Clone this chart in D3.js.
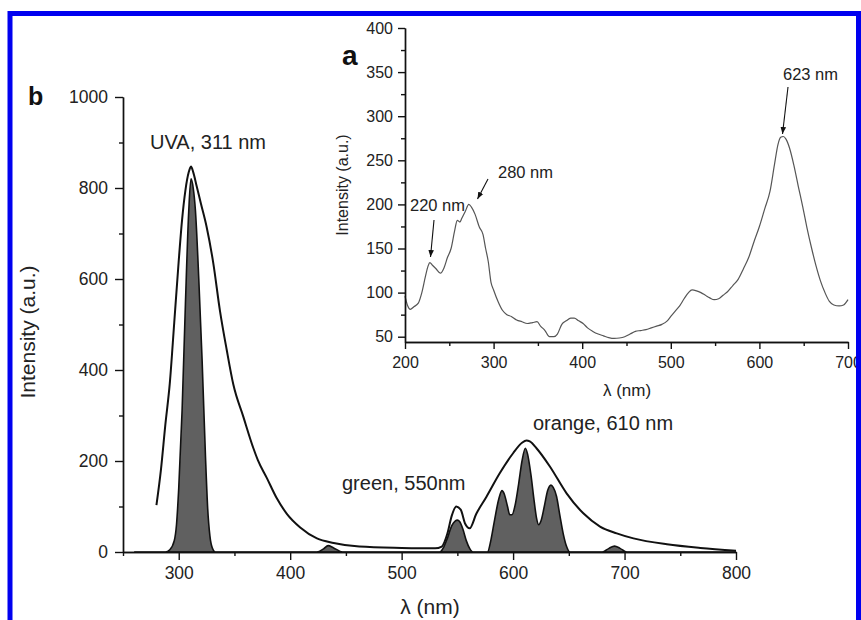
<!DOCTYPE html>
<html>
<head>
<meta charset="utf-8">
<script src="https://cdn.jsdelivr.net/npm/d3@7"></script>
<style>
  body { margin: 0; background: #fff; }
  svg { display: block; font-family: "Liberation Sans", Arial, sans-serif; }
  .axis path, .axis line { stroke: #111; }
  .axis text { fill: #222; }
</style>
</head>
<body>
<svg id="chart" width="861" height="620"></svg>
<script>
// main panel (b): emission spectrum, outline curve
const outerNm  = [280, 284, 288, 292, 296, 300, 303, 306, 309, 311, 313, 316, 320, 325, 331, 337, 343, 349, 358, 367, 371, 379, 388, 397, 409, 424, 439, 462, 500, 530, 536, 541, 545, 549, 553, 557, 561, 567, 576, 588, 600, 608, 612, 615, 621, 633, 648, 663, 678, 693, 708, 738, 768, 800];
const outerVal = [103, 180, 280, 371, 505, 640, 730, 795, 835, 847, 835, 805, 765, 715, 635, 530, 445, 368, 297, 228, 202, 163, 118, 84, 54, 30, 20, 12, 9, 8, 12, 40, 80, 100, 93, 62, 52, 84, 121, 173, 217, 240, 245, 243, 228, 188, 129, 85, 56, 41, 30, 17, 9, 3];

// main panel (b): filled line components
const fillNm  = [260, 288, 292, 296, 298, 300, 303, 306, 309, 311, 313, 315, 318, 321, 324, 326, 328, 330, 333, 380, 424, 430, 434, 439, 447, 490, 534, 538, 541, 545, 548, 550, 552, 555, 558, 561, 564, 570, 577, 580, 583, 587, 590, 592, 595, 597, 599, 602, 605, 608, 611, 613, 616, 619, 621, 623, 625, 628, 631, 634, 636, 639, 642, 645, 648, 651, 665, 680, 686, 691, 696, 702, 750, 800];
const fillVal = [0, 0, 5, 25, 60, 140, 310, 545, 750, 820, 800, 750, 600, 420, 210, 95, 35, 10, 0, 0, 0, 7, 14, 9, 0, 0, 0, 12, 30, 58, 68, 70, 67, 50, 25, 8, 0, 0, 0, 25, 65, 115, 135, 128, 100, 82, 82, 105, 150, 200, 228, 215, 170, 110, 75, 60, 68, 100, 135, 147, 142, 122, 80, 40, 12, 0, 0, 0, 8, 13, 8, 0, 0, 0];

// inset (a): excitation spectrum
const insetNm  = [200, 203, 206, 210, 215, 219, 223, 226, 228, 231, 235, 240, 244, 248, 252, 256, 259, 262, 264, 268, 272, 275, 279, 284, 288, 291, 294, 297, 300, 305, 310, 315, 320, 326, 332, 338, 344, 349, 353, 358, 363, 368, 372, 377, 382, 387, 391, 396, 401, 406, 412, 418, 424, 430, 436, 442, 448, 454, 460, 466, 472, 478, 484, 490, 496, 500, 505, 510, 515, 520, 524, 529, 534, 539, 544, 549, 554, 559, 564, 570, 576, 582, 588, 594, 600, 606, 612, 617, 621, 624, 627, 630, 634, 639, 644, 649, 654, 659, 664, 669, 674, 679, 684, 690, 695, 700];
const insetVal = [96, 85, 81, 84, 88, 100, 118, 130, 134, 131, 127, 122, 128, 140, 150, 170, 182, 180, 184, 192, 200, 197, 189, 174, 166, 150, 135, 112, 103, 90, 80, 75, 73, 69, 67, 65, 66, 67, 62, 57, 50, 50, 53, 64, 68, 71, 71, 68, 65, 60, 56, 53, 51, 49, 48, 48.5, 50, 53, 56, 57, 58, 60, 62, 64, 68, 73, 79, 85, 93, 100, 103, 102, 100, 97, 94, 92, 93, 97, 101, 108, 115, 127, 140, 158, 175, 195, 215, 245, 268, 276, 277, 274, 264, 244, 220, 197, 172, 150, 130, 113, 100, 90, 86, 85, 86, 92];

// ticks
const mainXTicks = [300, 400, 500, 600, 700, 800];
const mainXMinor = [250, 350, 450, 550, 650, 750];
const mainYTicks = [0, 200, 400, 600, 800, 1000];
const mainYMinor = [100, 300, 500, 700, 900];
const insetXTicks = [200, 300, 400, 500, 600, 700];
const insetXMinor = [250, 350, 450, 550, 650];
const insetYTicks = [50, 100, 150, 200, 250, 300, 350, 400];
const insetYMinor = [75, 125, 175, 225, 275, 325, 375];

// annotations
const mainLabels = [
   { text: "UVA, 311 nm", x: 150, y: 149 },
   { text: "green, 550nm", x: 342, y: 490 },
   { text: "orange, 610 nm", x: 533, y: 430 }
];
const insetNotes = [
   { text: "220 nm", tx: 410, ty: 211, from: [434, 220], to: [430.5, 257] },
   { text: "280 nm", tx: 498, ty: 178, from: [488, 179], to: [477.5, 199] },
   { text: "623 nm", tx: 783, ty: 80, from: [788, 87], to: [782.5, 134] }
];

const svg = d3.select("#chart");

svg.append("defs").append("marker")
   .attr("id", "arrow")
   .attr("viewBox", "0 0 10 10")
   .attr("refX", 10).attr("refY", 5)
   .attr("markerWidth", 7).attr("markerHeight", 7)
   .attr("markerUnits", "userSpaceOnUse")
   .attr("orient", "auto")
   .append("path")
   .attr("d", "M0,1 L10,5 L0,9 Z")
   .attr("fill", "#111");

// ---- main chart ----
const x = d3.scaleLinear().domain([250, 800]).range([123, 736]);
const y = d3.scaleLinear().domain([0, 1000]).range([552, 97]);

const fillData = fillNm.map((d, i) => [d, fillVal[i]]);
const outerData = outerNm.map((d, i) => [d, outerVal[i]]);

svg.append("path")
   .datum(fillData)
   .attr("d", d3.area().x((d) => x(d[0])).y0(y(0)).y1((d) => y(d[1])).curve(d3.curveMonotoneX))
   .attr("fill", "#606060")
   .attr("stroke", "#111")
   .attr("stroke-width", 1.6);

svg.append("path")
   .datum(outerData)
   .attr("d", d3.line().x((d) => x(d[0])).y((d) => y(d[1])).curve(d3.curveMonotoneX))
   .attr("fill", "none")
   .attr("stroke", "#111")
   .attr("stroke-width", 2);

svg.append("g").attr("class", "axis")
   .attr("transform", "translate(0,552)")
   .call(d3.axisBottom(x).tickValues(mainXMinor).tickSize(4).tickSizeOuter(0).tickFormat(""));
svg.append("g").attr("class", "axis")
   .attr("transform", "translate(0,552)")
   .call(d3.axisBottom(x).tickValues(mainXTicks).tickSize(8).tickPadding(7).tickSizeOuter(0).tickFormat(d3.format("d")))
   .selectAll("text").style("font-size", "17.5px");

svg.append("g").attr("class", "axis")
   .attr("transform", "translate(123,0)")
   .call(d3.axisLeft(y).tickValues(mainYMinor).tickSize(4).tickSizeOuter(0).tickFormat(""));
svg.append("g").attr("class", "axis")
   .attr("transform", "translate(123,0)")
   .call(d3.axisLeft(y).tickValues(mainYTicks).tickSize(8).tickPadding(7).tickSizeOuter(0).tickFormat(d3.format("d")))
   .selectAll("text").style("font-size", "17.5px");

svg.append("text")
   .attr("transform", "translate(35,332) rotate(-90)")
   .attr("text-anchor", "middle")
   .style("font-size", "21px").attr("fill", "#222")
   .text("Intensity (a.u.)");

svg.append("text")
   .attr("x", 430).attr("y", 614)
   .attr("text-anchor", "middle")
   .style("font-size", "21px").attr("fill", "#222")
   .text("λ (nm)");

svg.append("text")
   .attr("x", 28).attr("y", 105)
   .style("font-size", "25px").style("font-weight", "bold").attr("fill", "#111")
   .text("b");

svg.selectAll(".main-label")
   .data(mainLabels)
   .enter()
   .append("text")
   .attr("x", (d) => d.x).attr("y", (d) => d.y)
   .style("font-size", "20px").attr("fill", "#222")
   .text((d) => d.text);

// ---- inset (a) ----
const xi = d3.scaleLinear().domain([200, 700]).range([405, 848]);
const yi = d3.scaleLinear().domain([44, 400]).range([342, 28]);

svg.append("path")
   .datum(insetNm.map((d, i) => [d, insetVal[i]]))
   .attr("d", d3.line().x((d) => xi(d[0])).y((d) => yi(d[1])).curve(d3.curveMonotoneX))
   .attr("fill", "none")
   .attr("stroke", "#555")
   .attr("stroke-width", 1.2);

svg.append("g").attr("class", "axis")
   .attr("transform", "translate(0,342)")
   .call(d3.axisBottom(xi).tickValues(insetXMinor).tickSize(4).tickSizeOuter(0).tickFormat(""));
svg.append("g").attr("class", "axis")
   .attr("transform", "translate(0,342)")
   .call(d3.axisBottom(xi).tickValues(insetXTicks).tickSize(7).tickPadding(8).tickSizeOuter(0))
   .selectAll("text").style("font-size", "16px");

svg.append("g").attr("class", "axis")
   .attr("transform", "translate(405,0)")
   .call(d3.axisLeft(yi).tickValues(insetYMinor).tickSize(4).tickSizeOuter(0).tickFormat(""));
svg.append("g").attr("class", "axis")
   .attr("transform", "translate(405,0)")
   .call(d3.axisLeft(yi).tickValues(insetYTicks).tickSize(7).tickPadding(5).tickSizeOuter(0))
   .selectAll("text").style("font-size", "16px");

svg.selectAll(".axis path, .axis line").attr("stroke-width", 1.4);

svg.append("text")
   .attr("transform", "translate(348,185) rotate(-90)")
   .attr("text-anchor", "middle")
   .style("font-size", "16px").attr("fill", "#222")
   .text("Intensity (a.u.)");

svg.append("text")
   .attr("x", 627).attr("y", 396)
   .attr("text-anchor", "middle")
   .style("font-size", "17px").attr("fill", "#222")
   .text("λ (nm)");

svg.append("text")
   .attr("x", 342).attr("y", 65)
   .style("font-size", "28px").style("font-weight", "bold").attr("fill", "#111")
   .text("a");

const notes = svg.selectAll(".note").data(insetNotes).enter().append("g");
notes.append("text")
   .attr("x", (d) => d.tx).attr("y", (d) => d.ty)
   .style("font-size", "16.5px").attr("fill", "#222")
   .text((d) => d.text);
notes.append("line")
   .attr("x1", (d) => d.from[0]).attr("y1", (d) => d.from[1])
   .attr("x2", (d) => d.to[0]).attr("y2", (d) => d.to[1])
   .attr("stroke", "#111").attr("stroke-width", 1.1)
   .attr("marker-end", "url(#arrow)");

// blue frame, on top so it clips the last inset label like the original
svg.append("rect")
   .attr("x", 10).attr("y", 13.5)
   .attr("width", 848.5).attr("height", 620)
   .attr("fill", "none")
   .attr("stroke", "#0000f0")
   .attr("stroke-width", 5);
</script>
</body>
</html>
